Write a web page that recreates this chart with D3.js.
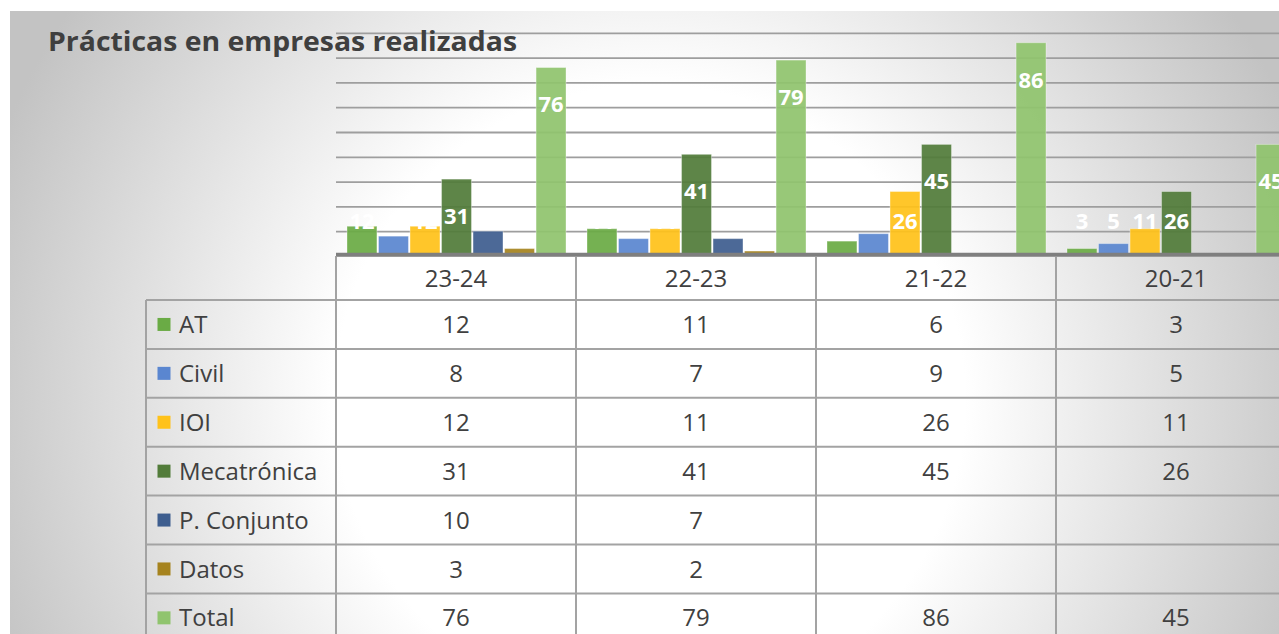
<!DOCTYPE html>
<html>
<head>
<meta charset="utf-8">
<script src="https://cdn.jsdelivr.net/npm/d3@7"></script>
<style>
  body { margin: 0; background: #fff; }
  svg { display: block; font-family: 'Open Sans', Lato, sans-serif; }
</style>
</head>
<body>
<svg id="chart" width="1279" height="634"></svg>
<script>
// data
const years = ['23-24', '22-23', '21-22', '20-21']
const series = ['AT', 'Civil', 'IOI', 'Mecatrónica', 'P. Conjunto', 'Datos', 'Total']
const at = [12, 11, 6, 3]
const civil = [8, 7, 9, 5]
const ioi = [12, 11, 26, 11]
const mecatronica = [31, 41, 45, 26]
const pConjunto = [10, 7, null, null]
const datos = [3, 2, null, null]
const total = [76, 79, 86, 45]
const gridTicks = [10, 20, 30, 40, 50, 60, 70, 80, 90]

const values = [at, civil, ioi, mecatronica, pConjunto, datos, total]
const colors = ['#6aab45', '#5a86d0', '#ffc21a', '#527c3a', '#3e5e8f', '#a6831e', '#90c46e']

let svg = d3.select('#chart')

// background gradient
let defs = svg.append('defs')
let grad = defs.append('radialGradient')
  .attr('id', 'bg')
  .attr('gradientUnits', 'userSpaceOnUse')
  .attr('cx', 650).attr('cy', 400).attr('r', 700)
grad.append('stop').attr('offset', 0).attr('stop-color', '#ffffff')
grad.append('stop').attr('offset', 0.45).attr('stop-color', '#ffffff')
grad.append('stop').attr('offset', 1).attr('stop-color', '#c3c3c3')

svg.append('rect')
  .attr('x', 10).attr('y', 11)
  .attr('width', 1279).attr('height', 634)
  .attr('fill', 'url(#bg)')

// scales
let tableLeft = 146
let colLeft = 336
let colWidth = 240
let zeroY = 256

let x0 = d3.scaleBand()
  .domain(years)
  .range([colLeft, colLeft + colWidth * years.length])

let x1 = d3.scaleBand()
  .domain(series)
  .range([11, 230])
  .paddingInner(0.05)

let y = d3.scaleLinear()
  .domain([0, 90])
  .range([zeroY, zeroY - 223.2])

// gridlines
let grid = svg.append('g')
  .attr('class', 'grid')
  .attr('transform', `translate(${colLeft},0)`)
  .call(d3.axisLeft(y).tickValues(gridTicks).tickSize(-(1279 - colLeft)).tickFormat(''))
grid.select('.domain').remove()
grid.selectAll('line').attr('stroke', '#9e9e9e').attr('stroke-width', 1.8)

// bars
let flat = []
years.forEach((yr, i) => {
  series.forEach((s, j) => {
    if (values[j][i] != null) flat.push({ year: yr, key: s, value: values[j][i], color: colors[j] })
  })
})

let bars = svg.append('g').attr('class', 'bars')
bars.selectAll('rect')
  .data(flat)
  .enter()
  .append('rect')
  .attr('x', d => x0(d.year) + x1(d.key))
  .attr('y', d => y(d.value))
  .attr('width', x1.bandwidth())
  .attr('height', d => y(0) - y(d.value))
  .attr('fill', d => d.color)
  .attr('fill-opacity', 0.93)
  .attr('stroke', '#ffffff')
  .attr('stroke-opacity', 0.35)
  .attr('stroke-width', 1)

bars.selectAll('text')
  .data(flat)
  .enter()
  .append('text')
  .text(d => d.value)
  .attr('x', d => x0(d.year) + x1(d.key) + x1.bandwidth() / 2)
  .attr('y', d => Math.min(y(d.value) + 37, y(0) - 34.5))
  .attr('dy', '0.36em')
  .attr('text-anchor', 'middle')
  .attr('font-size', 22)
  .attr('font-weight', 'bold')
  .attr('fill', '#ffffff')

// title
svg.append('text')
  .text('Prácticas en empresas realizadas')
  .attr('x', 48)
  .attr('y', 51)
  .attr('font-size', 26)
  .attr('font-weight', 'bold')
  .attr('textLength', 469)
  .attr('lengthAdjust', 'spacingAndGlyphs')
  .attr('fill', '#3f3f3f')

// data table
let rowH = 48.9
let headTop = zeroY
let bodyTop = 300
let table = svg.append('g').attr('class', 'table')
let lineColor = '#a3a3a3'

// horizontal lines
table.append('line')
  .attr('x1', colLeft).attr('x2', 1279)
  .attr('y1', headTop).attr('y2', headTop)
  .attr('stroke', lineColor).attr('stroke-width', 2)
d3.range(series.length + 1).forEach(r => {
  let yy = bodyTop + r * rowH
  table.append('line')
    .attr('x1', tableLeft).attr('x2', 1279)
    .attr('y1', yy).attr('y2', yy)
    .attr('stroke', lineColor).attr('stroke-width', 2)
})

// vertical lines
table.append('line')
  .attr('x1', tableLeft).attr('x2', tableLeft)
  .attr('y1', bodyTop).attr('y2', 634)
  .attr('stroke', lineColor).attr('stroke-width', 2)
years.forEach(yr => {
  table.append('line')
    .attr('x1', x0(yr)).attr('x2', x0(yr))
    .attr('y1', headTop).attr('y2', 634)
    .attr('stroke', lineColor).attr('stroke-width', 2)
})

// category axis line
svg.append('line')
  .attr('x1', colLeft).attr('x2', 1279)
  .attr('y1', zeroY - 1.5).attr('y2', zeroY - 1.5)
  .attr('stroke', '#7f7f7f').attr('stroke-width', 3.5)

// header texts
table.selectAll('.head')
  .data(years)
  .enter()
  .append('text')
  .attr('class', 'head')
  .text(d => d)
  .attr('x', d => x0(d) + colWidth / 2)
  .attr('y', (headTop + bodyTop) / 2)
  .attr('dy', '0.36em')
  .attr('text-anchor', 'middle')
  .attr('font-size', 24)
  .attr('fill', '#404040')

// rows
series.forEach((s, j) => {
  let cy = bodyTop + j * rowH + rowH / 2
  table.append('rect')
    .attr('x', 157.5).attr('y', cy - 6.5)
    .attr('width', 13).attr('height', 13)
    .attr('fill', colors[j])
  table.append('text')
    .text(s)
    .attr('x', 179)
    .attr('y', cy)
    .attr('dy', '0.36em')
    .attr('font-size', 24)
    .attr('fill', '#404040')
  years.forEach((yr, i) => {
    if (values[j][i] == null) return
    table.append('text')
      .text(values[j][i])
      .attr('x', x0(yr) + colWidth / 2)
      .attr('y', cy)
      .attr('dy', '0.36em')
      .attr('text-anchor', 'middle')
      .attr('font-size', 24)
      .attr('fill', '#404040')
  })
})
</script>
</body>
</html>
